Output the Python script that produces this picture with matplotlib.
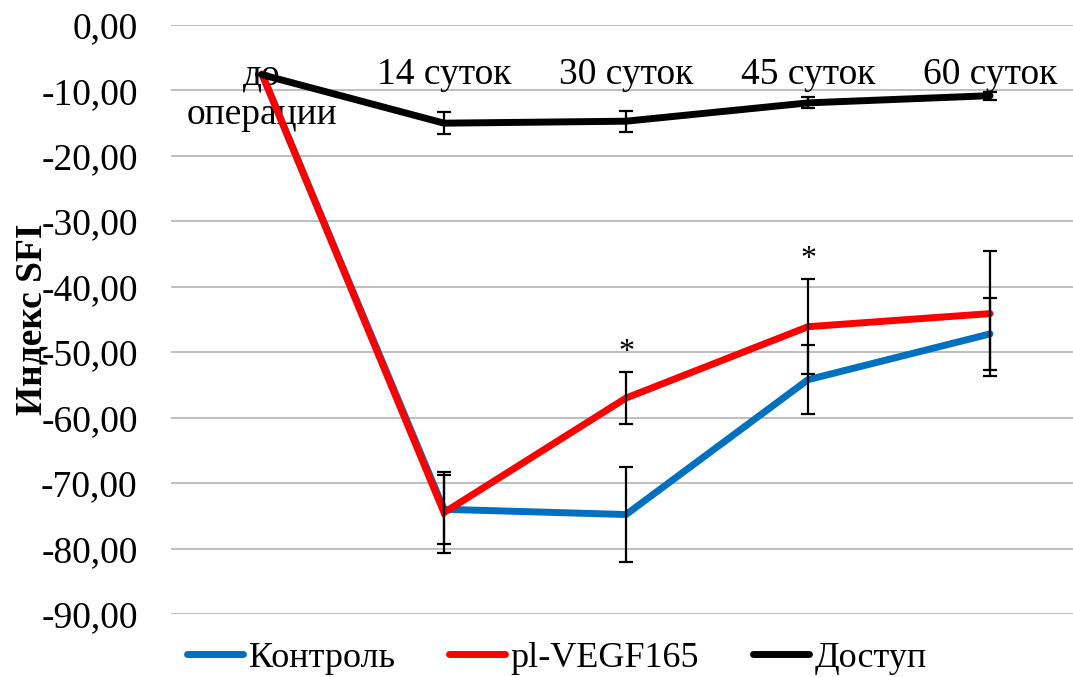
import numpy as np
import matplotlib
matplotlib.use("Agg")
import matplotlib.pyplot as plt

plt.rcParams['font.family'] = ['Liberation Serif', 'DejaVu Serif']

# data
categories = ['до\nоперации', '14 суток', '30 суток', '45 суток', '60 суток']
control = [-7.5, -74.0, -74.8, -54.2, -47.2]
control_err = [0.0, 5.3, 7.3, 5.3, 5.5]
vegf = [-7.5, -74.5, -57.0, -46.1, -44.1]
vegf_err = [0.0, 6.2, 4.0, 7.3, 9.6]
access = [-7.6, -15.0, -14.7, -11.9, -10.8]
access_err = [0.0, 1.7, 1.6, 0.85, 0.6]
star_pos = [2, 3]
star_y = [-50.1, -35.9]
yticks = np.arange(0, -91, -10)

x = np.arange(len(categories))

fig = plt.figure(figsize=(10.73, 6.77), dpi=100)
ax = fig.add_axes([171/1073, 63/677, 902/1073, 589/677])

series = [(control, control_err, '#0070c0', 'Контроль'),
          (vegf, vegf_err, '#ff0000', 'pl-VEGF165'),
          (access, access_err, '#000000', 'Доступ')]
for i, (vals, err, col, lab) in enumerate(series):
    ax.plot(x, vals, color=col, lw=5, label=lab, zorder=3 + i,
            solid_capstyle='round', solid_joinstyle='miter')
for i, (vals, err, col, lab) in enumerate(series):
    ax.errorbar(x, vals, yerr=err, fmt='none', ecolor='black', elinewidth=1.6,
                capsize=4.7, capthick=1.6, zorder=7)

for p, yy in zip(star_pos, star_y):
    ax.text(p, yy, '*', ha='center', va='center', fontsize=23, zorder=8)

# category labels sit just under the zero line
for i, c in enumerate(categories):
    ax.text(i, -5.0, c, ha='center', va='top', fontsize=27, linespacing=1.2, zorder=2)

ax.set_ylim(-90, 0)
ax.set_xlim(-0.5, 4.456)
ax.set_yticks(yticks)
ax.set_yticklabels([f'{v:.2f}'.replace('.', ',') for v in yticks], fontsize=27)
ax.set_xticks([])
ax.tick_params(axis='y', length=0, pad=24)
ax.grid(axis='y', color='#b3b3b3', lw=1.2)
ax.set_axisbelow(True)
for s in ax.spines.values():
    s.set_visible(False)

fig.text(32/1073, 1 - 319/677, 'Индекс SFI', rotation=90, ha='center', va='center',
         fontsize=27, fontweight='bold')

ax.legend(loc='center', bbox_to_anchor=(557/1073, 1 - 658/677),
          bbox_transform=fig.transFigure, ncol=3, frameon=False, fontsize=26,
          handlelength=1.55, handletextpad=0.15, columnspacing=1.5)

fig.savefig('out.png', dpi=100)
